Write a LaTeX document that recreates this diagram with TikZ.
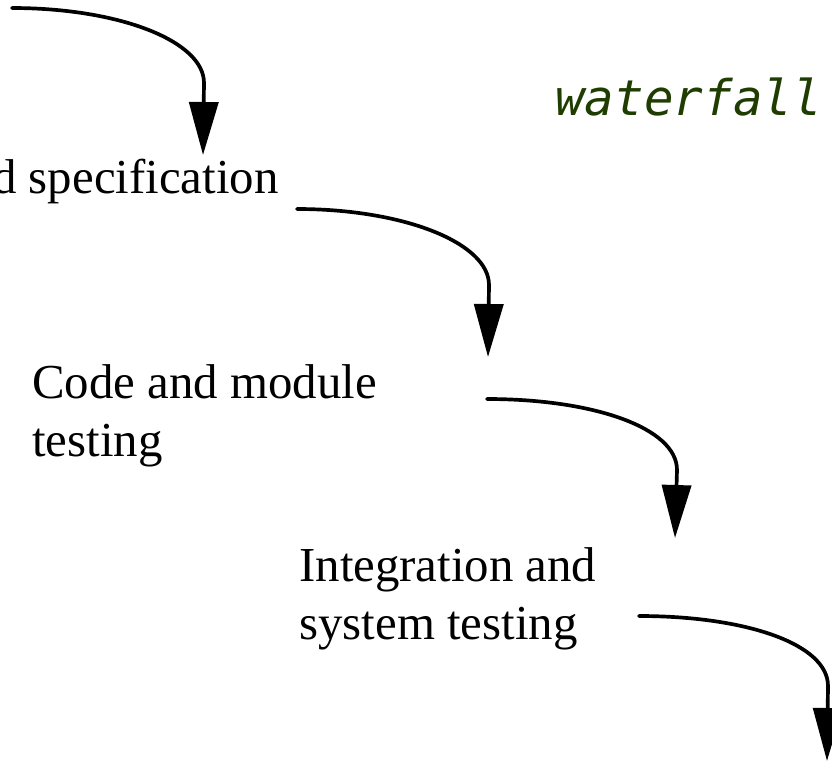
\documentclass[tikz,border=0pt]{standalone}
\usepackage{fontspec}
\setmainfont{Liberation Serif}
\newfontfamily\wffont{DejaVu Sans Mono}
\usetikzlibrary{arrows.meta}
\definecolor{wfgreen}{RGB}{31,61,0}
\begin{document}
\begin{tikzpicture}[x=0.02cm, y=-0.02cm, line join=round, line cap=round,
  flow/.style={line width=2.1pt, -{Triangle[length=1.06cm, width=0.58cm]}},
  stage/.style={anchor=base west, inner sep=0pt, align=left, font=\fontsize{27.8}{32.5}\selectfont}]
\useasboundingbox (0,0) rectangle (832,762);
\clip (0,0) rectangle (832,762);
% stages
\node[stage] (spec) at (-8,193) {d specification};
\node[stage] (code) at (32,456) {Code and module\\testing};
\node[stage] (integ) at (299,639) {Integration and\\system testing};
\node[anchor=base west, inner sep=0pt, text=wfgreen, font=\wffont\itshape\fontsize{28}{32}\selectfont] (title) at (555,115) {waterfall};
% arrow ends
\coordinate (a1) at (12,8);   \coordinate (b1) at (204,83);  \coordinate (t1) at (203,155);
\coordinate (a2) at (297,209); \coordinate (b2) at (489,285); \coordinate (t2) at (488,357);
\coordinate (a3) at (487,399); \coordinate (b3) at (677,470); \coordinate (t3) at (675,538);
\coordinate (a4) at (639,616); \coordinate (b4) at (828,686); \coordinate (t4) at (827,761);
% arrows
\foreach \i in {1,...,4}
  \draw[flow] (a\i) .. controls +(107,0) and +(0,-42) .. (b\i) -- (t\i);
\end{tikzpicture}
\end{document}
